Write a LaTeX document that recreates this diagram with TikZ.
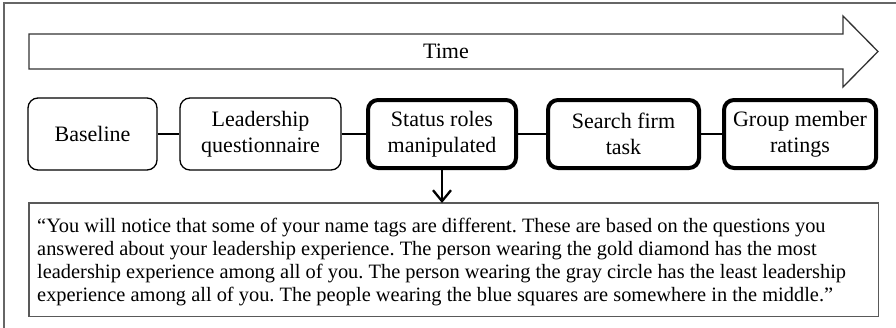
\documentclass[tikz,border=0pt]{standalone}
\usepackage{fontspec}
\setmainfont{Liberation Serif}
\usetikzlibrary{arrows.meta}
\begin{document}
\begin{tikzpicture}[x=1pt,y=-1pt,
  stage/.style={draw=black,line width=1.3pt,rounded corners=10pt,align=center,
    font=\fontsize{22}{26}\selectfont,inner sep=0pt},
  boldstage/.style={stage,line width=4pt},
  link/.style={draw=black,line width=1.3pt},
  frame/.style={draw=black!60,line width=1.5pt},
  timearrow/.style={draw=black!80,line width=1.3pt,fill=white},
  quotebox/.style={align=left,anchor=north west,
    inner sep=0pt,font=\fontsize{20.4}{23.2}\selectfont\frenchspacing}
]
\useasboundingbox (0,0) rectangle (896,327);
\clip (0,0) rectangle (896,327);
\draw[frame] (4,3) rectangle (910,340);
% time arrow
\draw[timearrow] (29,34) -- (843,34) -- (843,16) -- (878,51.5) -- (843,87) -- (843,69) -- (29,69) -- cycle;
\node[font=\fontsize{22}{23}\selectfont] (time) at (446,51.5) {Time};
% stages
\node[stage,minimum width=129pt,minimum height=72pt] (base) at (92.5,134) {Baseline};
\node[stage,minimum width=161pt,minimum height=72pt] (lead) at (260.5,134) {Leadership\\questionnaire};
\node[boldstage,minimum width=148pt,minimum height=68pt] (status) at (442,134) {Status roles\\manipulated};
\node[boldstage,minimum width=151pt,minimum height=68pt] (search) at (623.5,134) {Search firm\\task};
\node[boldstage,minimum width=152pt,minimum height=68pt] (group) at (800,134) {Group member\\ratings};
\draw[link] (base) -- (lead);
\draw[link] (lead) -- (status);
\draw[link] (status) -- (search);
\draw[link] (search) -- (group);
% quote box
\node[draw=none,minimum width=849pt,minimum height=113pt,anchor=north west] (qframe) at (29,203) {};
\draw[draw=black!65,line width=1.3pt] (qframe.north west) rectangle (qframe.south east);
\node[quotebox] (quote) at (37,217.5)
{``You will notice that some of your name tags are different. These are based on the questions you\\
answered about your leadership experience. The person wearing the gold diamond has the most\\
leadership experience among all of you. The person wearing the gray circle has the least leadership\\
experience among all of you. The people wearing the blue squares are somewhere in the middle.''};
\draw[line width=2.3pt,-{Straight Barb[length=11pt,width=18pt,line width=2.3pt]}] (status.south) -- (qframe.north -| status.south);
\end{tikzpicture}
\end{document}
